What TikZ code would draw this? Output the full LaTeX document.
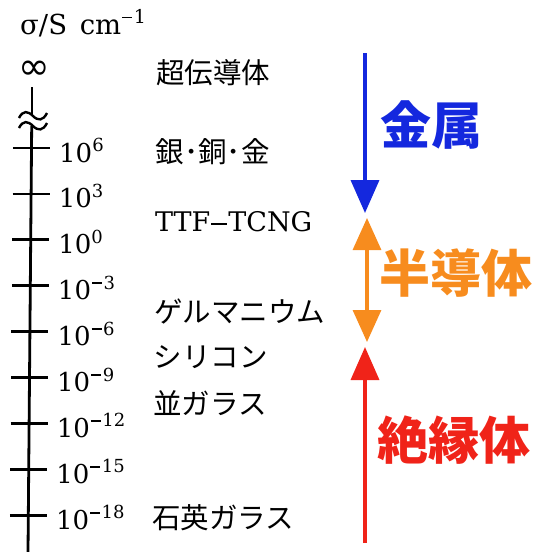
\documentclass[tikz,border=0pt]{standalone}
\usepackage{fontspec}
\newfontfamily\jpfont{Noto Sans CJK JP}
\newfontfamily\numfont{DejaVu Serif}
\newfontfamily\symfont{DejaVu Sans}
\usetikzlibrary{arrows.meta}
\definecolor{mblue}{RGB}{20,40,222}
\definecolor{morange}{RGB}{247,140,30}
\definecolor{mred}{RGB}{240,35,25}
\newcommand{\supminus}{\hspace{1pt}\rule[5.2pt]{10pt}{1.7pt}\hspace{1.5pt}}
\newcommand{\supnum}[1]{\raisebox{10.5pt}{\fontsize{18}{18}\selectfont #1}}
\begin{document}
\begin{tikzpicture}[x=1pt,y=-1pt,
  axisline/.style={line width=2.8pt,black},
  tickline/.style={line width=2.8pt,black},
  breakwave/.style={line width=2.4pt,black},
  ticklabel/.style={anchor=base west,inner sep=0pt,font=\fontsize{26}{26}\selectfont\numfont},
  matlabel/.style={anchor=west,inner sep=0pt,font=\fontsize{28.5}{29}\selectfont\jpfont},
  latlabel/.style={anchor=west,inner sep=0pt,font=\fontsize{27}{28}\selectfont\numfont},
  classlabel/.style={anchor=west,inner sep=0pt,font=\fontsize{51}{52}\selectfont\jpfont\bfseries},
  classarrow/.style={line width=3.6pt,-{Triangle[width=28pt,length=33pt]}},
]
\useasboundingbox (0,0) rectangle (539,552);
% unit label and infinity
\node[anchor=base west,inner sep=0pt,font=\fontsize{27.5}{28}\selectfont\numfont] (unit) at (20,34.5) {σ/S\hspace{4pt} cm\raisebox{11pt}{\fontsize{19}{19}\selectfont\supminus 1}};
\node[inner sep=0pt,font=\fontsize{38}{38}\selectfont\symfont] (inf) at (34,70) {∞};
% axis with break
\draw[axisline] (32,87) -- (32,116);
\draw[breakwave] (19,118) .. controls (23,110) and (28,111) .. (33,116) .. controls (38,121) and (43,121) .. (47,113);
\draw[breakwave] (19,128) .. controls (23,120) and (28,121) .. (33,126) .. controls (38,131) and (43,131) .. (47,123);
\draw[axisline] (31.7,126) -- (28,552);
% ticks and labels
\foreach \e [count=\i from 0] in {6,3,0,\supminus 3,\supminus 6,\supminus 9,\supminus 12,\supminus 15,\supminus 18} {
  \pgfmathsetmacro\yy{148+45.9*\i}
  \pgfmathsetmacro\xx{32-4*(\yy-88)/464}
  \draw[tickline] (\xx-18.5,\yy) -- (\xx+18.5,\yy);
  \node[ticklabel] (t\i) at (\xx+27.5,\yy+14) {10\supnum{\e}};
}
% material labels
\node[matlabel] (sc) at (156,73) {超伝導体};
\node[matlabel] (ag) at (155.5,152) {銀･銅･金};
\node[latlabel] (ttf) at (155,222) {TTF\hspace{1pt}\rule[7.3pt]{16pt}{1.8pt}\hspace{1pt}TCNG};
\node[matlabel] (ge) at (154,312) {ゲルマニウム};
\node[matlabel] (si) at (153.5,357) {シリコン};
\node[matlabel] (gl) at (153,403) {並ガラス};
\node[matlabel] (qz) at (152,518) {石英ガラス};
% class arrows
\coordinate (bTop) at (365,53);
\coordinate (bTip) at (365,213);
\coordinate (oTop) at (367,218);
\coordinate (oBot) at (367,342);
\coordinate (rBot) at (365,543);
\coordinate (rTip) at (365,347);
\draw[classarrow,mblue] (bTop) -- (bTip);
\draw[line width=3.2pt,morange,{Triangle[width=28pt,length=32pt]}-{Triangle[width=28pt,length=32pt]}] (oTop) -- (oBot);
\draw[classarrow,mred] (rBot) -- (rTip);
\node[classlabel,text=mblue] (metal) at (380,125) {金属};
\node[classlabel,text=morange] (semi) at (379,273) {半導体};
\node[classlabel,text=mred] (ins) at (377,440) {絶縁体};
\end{tikzpicture}
\end{document}
